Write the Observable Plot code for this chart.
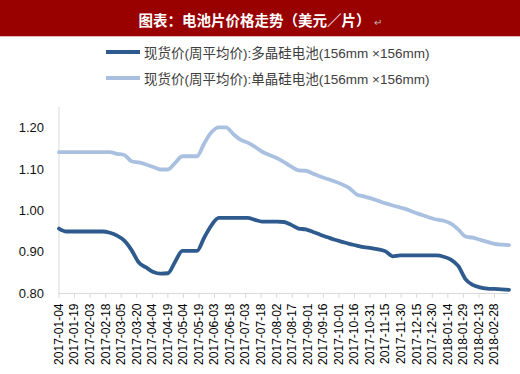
<!DOCTYPE html>
<html><head><meta charset="utf-8">
<script src="https://cdn.jsdelivr.net/npm/d3@7"></script>
<script src="https://cdn.jsdelivr.net/npm/@observablehq/plot@0.6"></script>
<style>
html,body{margin:0;padding:0;background:#fff;width:520px;height:374px;overflow:hidden;}
#title{height:36px;background:#990000;border-bottom:1px solid #e6b3b3;color:#fff;font:bold 14.5px "Noto Sans CJK SC",sans-serif;text-align:center;line-height:40px;position:relative;}
#title .ret{color:#bbb;font-weight:normal;font-size:10px;margin-left:3px;}
#legend{height:58px;position:relative;font:13.5px "Liberation Sans","Noto Sans CJK SC",sans-serif;color:#404040;}
.row{position:absolute;left:106px;height:20px;display:flex;align-items:center;white-space:nowrap;}
.sw{width:34px;height:3.5px;margin-right:4px;}
</style></head>
<body>
<div id="title">图表：电池片价格走势（美元／片）<span class="ret">↵</span></div>
<div id="legend"></div>
<div id="chart"></div>
<script>
const dates = ["2017-01-04","2017-01-11","2017-01-18","2017-01-25","2017-02-01","2017-02-08","2017-02-15","2017-02-22","2017-03-01","2017-03-08","2017-03-15","2017-03-22","2017-03-29","2017-04-05","2017-04-12","2017-04-19","2017-04-26","2017-05-03","2017-05-10","2017-05-17","2017-05-24","2017-05-31","2017-06-07","2017-06-14","2017-06-21","2017-06-28","2017-07-05","2017-07-12","2017-07-19","2017-07-26","2017-08-02","2017-08-09","2017-08-16","2017-08-23","2017-08-30","2017-09-06","2017-09-13","2017-09-20","2017-09-27","2017-10-04","2017-10-11","2017-10-18","2017-10-25","2017-11-01","2017-11-08","2017-11-15","2017-11-22","2017-11-29","2017-12-06","2017-12-13","2017-12-20","2017-12-27","2018-01-03","2018-01-10","2018-01-17","2018-01-24","2018-01-31","2018-02-07","2018-02-14","2018-02-21","2018-02-28","2018-03-07","2018-03-14"];
const polySi = [0.957,0.950,0.950,0.950,0.950,0.950,0.950,0.947,0.940,0.928,0.905,0.875,0.863,0.852,0.848,0.849,0.877,0.903,0.903,0.903,0.935,0.965,0.983,0.983,0.983,0.983,0.983,0.978,0.974,0.974,0.974,0.973,0.966,0.957,0.955,0.949,0.942,0.936,0.930,0.925,0.920,0.916,0.912,0.910,0.907,0.902,0.890,0.892,0.892,0.892,0.892,0.892,0.892,0.889,0.882,0.867,0.835,0.821,0.815,0.812,0.811,0.810,0.809];
const monoSi = [1.142,1.142,1.142,1.142,1.142,1.142,1.142,1.142,1.138,1.135,1.120,1.117,1.112,1.106,1.100,1.100,1.116,1.132,1.132,1.132,1.163,1.190,1.202,1.202,1.186,1.172,1.165,1.155,1.143,1.135,1.128,1.118,1.107,1.098,1.097,1.090,1.083,1.077,1.071,1.064,1.055,1.040,1.035,1.030,1.024,1.018,1.013,1.008,1.003,0.996,0.990,0.984,0.979,0.976,0.969,0.955,0.938,0.935,0.930,0.925,0.920,0.918,0.917];
const seriesNames = ["现货价(周平均价):多晶硅电池(156mm ×156mm)","现货价(周平均价):单晶硅电池(156mm ×156mm)"];
const colors = ["#2E5A8E","#A9C0E0"];
const xTickLabels = ["2017-01-04","2017-01-19","2017-02-03","2017-02-18","2017-03-05","2017-03-20","2017-04-04","2017-04-19","2017-05-04","2017-05-19","2017-06-03","2017-06-18","2017-07-03","2017-07-18","2017-08-02","2017-08-17","2017-09-01","2017-09-16","2017-10-01","2017-10-16","2017-10-31","2017-11-15","2017-11-30","2017-12-15","2017-12-30","2018-01-14","2018-01-29","2018-02-13","2018-02-28"];
const yTicks = [0.80,0.90,1.00,1.10,1.20];

const parse = d3.utcParse("%Y-%m-%d");
const rows = [];
dates.forEach((d,i)=>{
  rows.push({date:parse(d), value:polySi[i], series:seriesNames[0]});
  rows.push({date:parse(d), value:monoSi[i], series:seriesNames[1]});
});

const leg = document.getElementById("legend");
seriesNames.forEach((n,i)=>{
  const r = document.createElement("div");
  r.className="row"; r.style.top = (5 + i*26) + "px";
  r.innerHTML = `<div class="sw" style="background:${colors[i]}"></div><span>${n}</span>`;
  leg.appendChild(r);
});

const dom = [parse(dates[0]), parse(dates[dates.length-1])];
const chart = Plot.plot({
  width: 520, height: 280,
  marginTop: 12, marginBottom: 82, marginLeft: 58.5, marginRight: 11.5,
  style: {fontFamily: "'Liberation Sans', Arial, sans-serif", background: "#fff"},
  x: {type: "utc", domain: dom},
  y: {domain: [0.8, 1.25]},
  color: {domain: seriesNames, range: colors},
  marks: [
    Plot.ruleX([dom[0]], {stroke: "#d9d9d9", strokeWidth: 1}),
    Plot.ruleY([0.8], {stroke: "#d9d9d9", strokeWidth: 1}),
    Plot.axisY({ticks: yTicks, tickFormat: d3.format(".2f"), tickSize: 0, tickPadding: 15, fontSize: 13, fill: "#111", label: null}),
    Plot.axisX({ticks: xTickLabels.map(parse), tickFormat: d3.utcFormat("%Y-%m-%d"), tickRotate: -90, tickSize: 5, tickPadding: 5, stroke: "#d9d9d9", fill: "#000", fontSize: 12, label: null}),
    Plot.line(rows, {x: "date", y: "value", stroke: "series", z: "series", strokeWidth: 3.8, curve: "monotone-x"})
  ]
});
document.getElementById("chart").appendChild(chart);
</script>
</body></html>
